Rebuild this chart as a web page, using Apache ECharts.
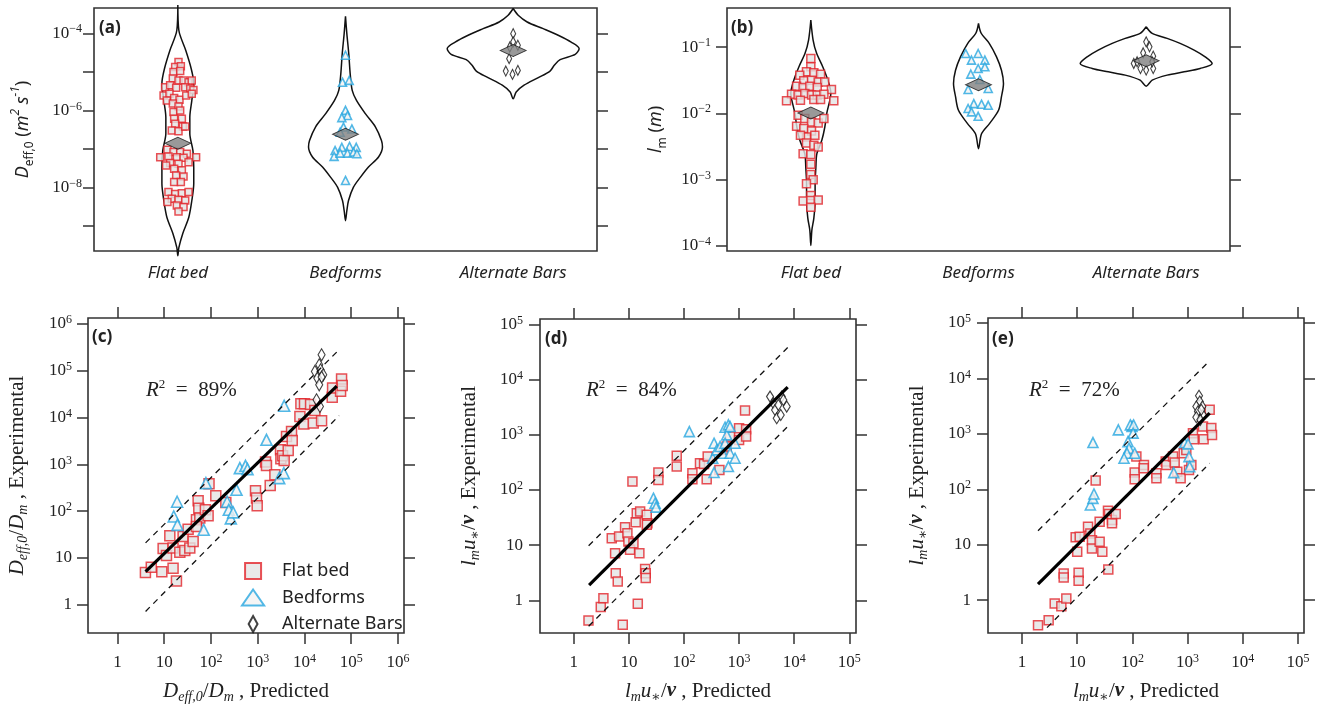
<!DOCTYPE html>
<html>
<head>
<meta charset="utf-8">
<script src="https://cdn.jsdelivr.net/npm/echarts@6/dist/echarts.min.js"></script>
<style>
  html, body { margin: 0; padding: 0; background: #fff; }
  #chart { width: 1324px; height: 707px; }
</style>
</head>
<body>
<div id="chart"></div>
<script>
// ---- categories ----
const regimes = ['Flat bed', 'Bedforms', 'Alternate Bars'];
const r2Labels = ['89%', '84%', '72%'];

// ---- (a) D_eff,0 strip points: [jitter within band, value] ----
const flatA = [[0.004,1.8e-5],[-0.016,1.34e-5],[0.018,1.39e-5],[-0.026,9.9e-6],[0.014,1.05e-5],[-0.03,6.7e-6],[0.004,6.0e-6],[0.034,6.0e-6],[0.064,5.4e-6],[0.083,6.0e-6],
  [-0.076,4.0e-6],[-0.046,4.5e-6],[-0.01,3.9e-6],[0.044,4.0e-6],[0.074,3.7e-6],[0.093,3.4e-6],[-0.085,2.45e-6],[-0.05,2.7e-6],[-0.022,2.1e-6],[0.01,1.9e-6],
  [0.05,2.45e-6],[0.083,2.7e-6],[-0.066,1.8e-6],[-0.03,1.5e-6],[0.004,1.27e-6],[-0.026,9.1e-7],[0.014,1.0e-6],[-0.022,6.1e-7],[0.024,6.1e-7],[-0.016,4.5e-7],
  [0.03,3.8e-7],[-0.036,3.0e-7],[0.004,2.9e-7],[0.044,3.8e-7],
  [-0.062,9.5e-8],[-0.026,8.3e-8],[0.014,8.3e-8],[0.054,7.5e-8],[-0.105,6.1e-8],[-0.056,6.4e-8],[-0.006,6.1e-8],[0.034,5.9e-8],[0.109,6.1e-8],[-0.046,4.3e-8],
  [0.004,4.1e-8],[0.064,4.5e-8],[-0.07,3.7e-8],[-0.022,3.05e-8],[0.024,2.8e-8],[-0.01,2.05e-8],[0.034,1.93e-8],[-0.022,1.38e-8],[0.018,1.38e-8],
  [-0.056,7.6e-9],[-0.016,6.8e-9],[0.024,7.1e-9],[0.064,7.6e-9],[-0.036,5.1e-9],[0.004,4.8e-9],[0.044,4.6e-9],[-0.062,4.2e-9],[-0.006,3.4e-9],[0.034,3.1e-9],[0.004,2.4e-9]];
const bedA = [[0,2.7e-5],[-0.018,5.4e-6],[0.022,6.0e-6],[0,1.0e-6],[0.012,7.4e-7],[-0.022,6.5e-7],[0.038,3.3e-7],[-0.012,3.7e-7],[-0.032,2.7e-7],[-0.062,9.1e-8],
  [-0.022,1.1e-7],[0.024,1.16e-7],[0.064,1.1e-7],[-0.068,6.4e-8],[-0.032,7.8e-8],[0.012,7.8e-8],[0.048,8.3e-8],[0.068,7.5e-8],[0,1.52e-8]];
const altA = [[0,9.8e-5],[0,6.0e-5],[-0.02,4.4e-5],[0.028,4.9e-5],[-0.024,2.2e-5],[-0.044,1.05e-5],[-0.004,8.6e-6],[0.028,1.09e-5]];
const medianA = [1.4e-7, 2.4e-7, 3.6e-5];

// violin outlines (a): [value, relative width]
const violinFlatA = [[5.4e-4,0],[1.2e-4,0.012],[3.6e-5,0.095],[1.32e-5,0.155],[5.0e-6,0.19],[1.82e-6,0.167],[6.6e-7,0.143],[2.5e-7,0.143],[9.1e-8,0.18],
  [3.3e-8,0.19],[1.26e-8,0.19],[4.6e-9,0.167],[1.66e-9,0.13],[6.5e-10,0.06],[2.75e-10,0.012],[1.7e-10,0]];
const violinBedA = [[2.75e-4,0],[9.8e-5,0.016],[2.95e-5,0.039],[8.9e-6,0.056],[3.3e-6,0.08],[1.82e-6,0.131],[8.1e-7,0.239],[3.7e-7,0.358],[1.66e-7,0.429],
  [1.12e-7,0.441],[6.2e-8,0.394],[3.4e-8,0.274],[1.86e-8,0.179],[1.02e-8,0.095],[4.6e-9,0.036],[2.5e-9,0.016],[1.38e-9,0]];
const violinAltA = [[4.4e-4,0],[2.94e-4,0.06],[1.97e-4,0.167],[1.32e-4,0.358],[8.9e-5,0.537],[5.9e-5,0.692],[4.0e-5,0.787],[2.85e-5,0.74],[2.07e-5,0.56],
  [1.48e-5,0.49],[1.05e-5,0.44],[7.1e-6,0.3],[4.5e-6,0.13],[3.0e-6,0.036],[2.0e-6,0]];

// ---- (b) l_m strip points ----
const flatB = [[0,0.0673],[0,0.0504],[-0.026,0.0423],[0.018,0.0408],[0.058,0.039],[-0.066,0.0377],[-0.042,0.0309],[0.004,0.0316],[0.044,0.0298],[0.083,0.0298],
  [-0.085,0.0256],[-0.046,0.0245],[-0.006,0.0256],[0.038,0.0245],[0.123,0.0229],[-0.115,0.0194],[-0.076,0.0188],[-0.036,0.0199],[0.004,0.0188],[0.038,0.0188],
  [0.078,0.0194],[-0.145,0.0154],[-0.062,0.0157],[0.018,0.0161],[0.058,0.0161],[0.137,0.0154],
  [-0.076,0.0093],[-0.036,0.0083],[0.004,0.0074],[0.044,0.0071],[0.078,0.0083],[-0.085,0.00636],[-0.042,0.00586],[0.004,0.0054],[-0.026,0.00438],[0.024,0.00464],
  [-0.062,0.00464],[-0.026,0.00356],[0.018,0.00328],[0.044,0.0031],[-0.046,0.00245],[0,0.00239],[0,0.00169],[0,0.00119],[0.014,0.00099],[-0.026,0.00086],
  [0,5.7e-4],[-0.046,4.7e-4],[0,4.8e-4],[0.044,4.9e-4],[0,3.8e-4]];
const bedB = [[-0.076,0.08],[-0.002,0.08],[-0.042,0.0635],[0.038,0.0635],[-0.002,0.0475],[0.038,0.0504],[-0.046,0.039],[0.008,0.0324],[-0.062,0.0229],[0.058,0.0237],
  [-0.028,0.014],[0.018,0.0137],[0.058,0.0132],[-0.062,0.0118],[-0.042,0.0105],[-0.002,0.009]];
const altB = [[0,0.12],[0.02,0.101],[-0.018,0.082],[0.042,0.073],[-0.074,0.0566],[-0.034,0.0475],[0,0.0449],[0.042,0.0475],[-0.054,0.06],[0.036,0.06]];
const medianB = [0.0101, 0.027, 0.062];

const violinFlatB = [[0.257,0],[0.128,0.027],[0.0813,0.068],[0.0501,0.143],[0.0316,0.203],[0.02,0.239],[0.0158,0.227],[0.01,0.19],[0.0062,0.167],[0.0039,0.131],
  [0.00245,0.072],[0.0015,0.06],[8.7e-4,0.051],[4.8e-4,0.051],[2.6e-4,0.036],[1.7e-4,0.012],[1.0e-4,0]];
const violinBedB = [[0.229,0],[0.162,0.032],[0.114,0.128],[0.0713,0.215],[0.0447,0.274],[0.0282,0.298],[0.0178,0.274],[0.0111,0.239],[0.00698,0.131],[0.0049,0.036],[0.00292,0]];
const violinAltB = [[0.203,0],[0.161,0.072],[0.1355,0.25],[0.1138,0.405],[0.0902,0.572],[0.0713,0.704],[0.0566,0.787],[0.0475,0.644],[0.0423,0.453],[0.0377,0.25],[0.0316,0.072],[0.0257,0]];

// ---- (c) D_eff,0/D_m: [predicted, experimental] ----
const flatC = [[3.97,4.9],[5.3,6.3],[8.9,5.1],[9.5,16],[11.2,11.3],[13.2,30],[15.5,16.3],[15.5,6.0],[18.3,3.2],[21.6,13.3],[25.4,28.8],[27.6,14.5],[32.5,41],
  [35.3,16.3],[41.6,22.5],[49,65.5],[53.2,167],[55,116],[57.8,71],[49,47],[76,107],[87,80],[91,385],[127,213],[208,154],[897,273],[942,190],[975,130],
  [1470,1117],[1540,948],[1850,355],[2330,600],[3075,2050],[3125,1320],[3400,1530],[3680,1210],[4130,3950],[4490,1990],[5290,5060],[5470,3250],
  [7980,10570],[8380,19700],[9700,7250],[10000,19650],[13490,19100],[15380,7620],[16700,14200],[23200,8550],[39200,27350],[39900,42650],[59150,36750],
  [62100,66400],[64100,48600]];
const bedC = [[18.9,159],[16,77],[19.2,51],[70,40],[78,398],[222,159],[241,107],[266,70],[299,94],[352,286],[415,832],[548,933],[605,792],[1540,3355],
  [2880,508],[3620,650],[3680,17870]];
const altC = [[23200,219800],[20650,134300],[16700,96800],[22100,105000],[25200,82200],[18750,69700],[23200,73300],[20650,50200],[18100,24000],[21400,17300]];
const fitC = [[4,5.1],[49000,46800]];
const upperC = [[4,21],[55000,282000]];
const lowerC = [[4,0.72],[55000,11000]];

// ---- (d) l_m u*/v (model 1) ----
const flatD = [[1.85,0.435],[3.09,0.757],[3.45,1.1],[7.74,0.363],[14.5,0.87],[4.89,13.4],[6.64,14.4],[5.62,7.18],[5.78,3.12],[6.28,2.21],[8.53,21.2],[9.4,16.5],
  [9.8,11.7],[10.5,8.26],[12.1,10.9],[11.6,142],[13.3,26.1],[13.9,38],[16,40.7],[15.5,7.18],[21.1,35.5],[21.7,25.1],[21.1,23.4],[19.7,3.69],[20.2,3.12],
  [20.2,2.54],[34.3,207],[34.3,152],[73.8,415],[73.8,266],[142,201],[142,157],[195,305],[231,297],[258,157],[269,403],[439,231],[504,532],[596,612],
  [685,928],[998,1310],[998,807],[1340,1260],[1340,928],[1280,2740]];
const bedD = [[125,1140],[27.9,71],[29.9,57.7],[31.1,48.9],[351,703],[332,376],[351,207],[393,532],[451,612],[504,463],[556,1370],[639,1510],[596,995],
  [556,703],[685,463],[844,703],[844,376],[639,266],[685,1410]];
const altD = [[3640,4910],[4190,3720],[4490,2820],[4810,1990],[5690,2290],[5930,4910],[7300,3240],[6350,4280],[5150,3470]];
const fitD = [[1.9,1.9],[7600,7300]];
const upperD = [[1.86,9.8],[7600,38000]];
const lowerD = [[1.86,0.34],[7600,1410]];

// ---- (e) l_m u*/v (model 2) ----
const flatE = [[1.95,0.353],[3.04,0.435],[3.91,0.87],[5.16,0.78],[6.35,1.07],[5.69,3.03],[5.69,2.57],[10.6,3.12],[10.6,2.24],[9.38,13.6],[11.1,14],[10,7.47],
  [15.7,21.1],[17.3,16],[18.5,12.1],[18.5,8.59],[25.5,11.3],[28.5,7.47],[25.5,26],[36.6,3.58],[36.1,41.1],[37.7,35.8],[42.7,27.9],[42.7,24.3],[49.8,35.8],
  [21.6,144],[118,389],[110,200],[110,152],[162,275],[160,240],[272,195],[272,158],[401,316],[412,275],[544,389],[583,303],[651,208],[748,158],[849,448],
  [948,514],[1060,223],[1170,275],[1250,1030],[1290,801],[1900,1360],[1950,801],[2690,1270],[2770,959],[2510,2720]];
const bedE = [[19.3,697],[55.6,1180],[98.4,1360],[91.8,1450],[105,1450],[103,1030],[83.2,726],[86.7,551],[79.8,448],[70.5,363],[110,448],[17.3,52.1],
  [19.3,68.7],[20.1,82.4],[560,200],[885,697],[1020,659],[1060,389],[1090,257]];
const altE = [[1610,4860],[1660,3840],[1440,3120],[1850,3120],[1540,2540],[1900,2200],[1440,2000],[1700,1790],[1770,2720]];
const fitE = [[1.95,1.95],[2510,2360]];
const upperE = [[1.95,17.9],[2510,20840]];
const lowerE = [[2.84,0.32],[2510,295]];

// ---- axis ticks ----
const ticksA = [1e-9, 1e-8, 1e-7, 1e-6, 1e-5, 1e-4];
const labelsA = [1e-8, 1e-6, 1e-4];
const ticksB = [1e-4, 1e-3, 1e-2, 1e-1];
const ticksC = [1, 10, 100, 1e3, 1e4, 1e5, 1e6];
const ticksDE = [1, 10, 100, 1e3, 1e4, 1e5];

// ---------------------------------------------------------------
const serif = "'Liberation Serif','DejaVu Serif',serif";
const sans = "'Noto Sans','Open Sans',sans-serif";
const ink = '#222';
const frame = '#333';

const powRich = {
  b: { fontFamily: serif, fontSize: 17, color: ink, lineHeight: 20 },
  e: { fontFamily: serif, fontSize: 12, color: ink, lineHeight: 10, verticalAlign: 'top' }
};
function powLabel(v) {
  const e = Math.round(Math.log10(v));
  if (e === 0) return '{b|1}';
  if (e === 1) return '{b|10}';
  return '{b|10}{e|' + (e < 0 ? '\u2212' + (-e) : e) + '}';
}

function serifRich(size) {
  return {
    i: { fontFamily: serif, fontStyle: 'italic', fontSize: size, color: ink, lineHeight: 26 },
    n: { fontFamily: serif, fontSize: size, color: ink, lineHeight: 26 },
    b: { fontFamily: serif, fontStyle: 'italic', fontWeight: 'bold', fontSize: size, color: ink, lineHeight: 26 },
    s: { fontFamily: serif, fontStyle: 'italic', fontSize: Math.round(size * 0.68), color: ink, lineHeight: 12, verticalAlign: 'bottom' }
  };
}
const sansRich = {
  i: { fontFamily: sans, fontStyle: 'italic', fontSize: 18, color: ink, lineHeight: 26 },
  n: { fontFamily: sans, fontSize: 18, color: ink, lineHeight: 26 },
  s: { fontFamily: sans, fontSize: 12, color: ink, lineHeight: 12, verticalAlign: 'bottom' },
  p: { fontFamily: sans, fontStyle: 'italic', fontSize: 12, color: ink, lineHeight: 12, verticalAlign: 'top' }
};

function logAxis(gi, pos, min, max, ticks, labels, margin, extra) {
  return Object.assign({
    type: 'log', logBase: 10, gridIndex: gi, position: pos, min: min, max: max,
    axisLine: { show: false },
    axisTick: { show: true, inside: false, length: 11, customValues: ticks, lineStyle: { color: frame, width: 1.5 } },
    axisLabel: labels ? { show: true, customValues: labels, formatter: powLabel, rich: powRich, margin: margin } : { show: false },
    splitLine: { show: false }
  }, extra || {});
}
function bandAxis(gi) {
  return {
    type: 'value', gridIndex: gi, min: 0, max: 3,
    axisLine: { show: false }, axisTick: { show: false }, splitLine: { show: false },
    axisLabel: {
      customValues: [0.5, 1.5, 2.5], formatter: v => regimes[Math.floor(v)],
      fontFamily: sans, fontStyle: 'italic', fontSize: 17, color: ink, margin: 14
    }
  };
}

const gridBox = { show: true, borderColor: frame, borderWidth: 1.6, containLabel: false };
const grid = [
  Object.assign({ left: 94, top: 8, width: 503, height: 243 }, gridBox),
  Object.assign({ left: 727, top: 8, width: 503, height: 243 }, gridBox),
  Object.assign({ left: 88, top: 318, width: 316, height: 315 }, gridBox),
  Object.assign({ left: 540, top: 319, width: 316, height: 314 }, gridBox),
  Object.assign({ left: 988, top: 318, width: 316, height: 315 }, gridBox)
];

const nameC = '{i|D}{s|eff,0}{n|/}{i|D}{s|m}{n| , ';
const nameL = '{i|l}{s|m}{i|u}{s|\u2217}{n|/}{b|v}{n| , ';

const xAxis = [
  bandAxis(0),
  bandAxis(1),
  logAxis(2, 'bottom', 0.235, 1.343e6, ticksC, ticksC, 20,
    { name: nameC + 'Predicted}', nameLocation: 'middle', nameGap: 45, nameTextStyle: { rich: serifRich(21) } }),
  logAxis(2, 'top', 0.235, 1.343e6, ticksC, null),
  logAxis(3, 'bottom', 0.244, 1.32e5, ticksDE, ticksDE, 20,
    { name: nameL + 'Predicted}', nameLocation: 'middle', nameGap: 45, nameTextStyle: { rich: serifRich(21) } }),
  logAxis(3, 'top', 0.244, 1.32e5, ticksDE, null),
  logAxis(4, 'bottom', 0.242, 1.285e5, ticksDE, ticksDE, 20,
    { name: nameL + 'Predicted}', nameLocation: 'middle', nameGap: 45, nameTextStyle: { rich: serifRich(21) } }),
  logAxis(4, 'top', 0.242, 1.285e5, ticksDE, null)
];

const yAxis = [
  logAxis(0, 'left', 2.25e-10, 4.54e-4, ticksA, labelsA, 12,
    { name: '{i|D}{s|eff,0}{n| (}{i|m}{p|2}{i| s}{p|\u22121}{n|)}', nameLocation: 'middle', nameGap: 58, nameTextStyle: { rich: sansRich } }),
  logAxis(0, 'right', 2.25e-10, 4.54e-4, ticksA, null),
  logAxis(1, 'left', 8.28e-5, 0.39, ticksB, ticksB, 16,
    { name: '{i|l}{s|m}{n| (}{i|m}{n|)}', nameLocation: 'middle', nameGap: 58, nameTextStyle: { rich: sansRich } }),
  logAxis(1, 'right', 8.28e-5, 0.39, ticksB, null),
  logAxis(2, 'left', 0.249, 1.343e6, ticksC, ticksC, 16,
    { name: nameC + 'Experimental}', nameLocation: 'middle', nameGap: 58, nameTextStyle: { rich: serifRich(21) } }),
  logAxis(2, 'right', 0.249, 1.343e6, ticksC, null),
  logAxis(3, 'left', 0.257, 1.25e5, ticksDE, ticksDE, 17,
    { name: nameL + 'Experimental}', nameLocation: 'middle', nameGap: 58, nameTextStyle: { rich: serifRich(21) } }),
  logAxis(3, 'right', 0.257, 1.25e5, ticksDE, null),
  logAxis(4, 'left', 0.256, 1.23e5, ticksDE, ticksDE, 17,
    { name: nameL + 'Experimental}', nameLocation: 'middle', nameGap: 58, nameTextStyle: { rich: serifRich(21) } }),
  logAxis(4, 'right', 0.256, 1.23e5, ticksDE, null)
];

const styles = {
  flat: { name: 'Flat bed', symbol: 'rect', itemStyle: { color: '#e3e3e3', borderColor: '#e2242b', borderWidth: 1.5 } },
  bed: { name: 'Bedforms', symbol: 'triangle', itemStyle: { color: '#f3f3f3', borderColor: '#27a6e0', borderWidth: 1.6 } },
  alt: { name: 'Alternate Bars', symbol: 'diamond', itemStyle: { color: '#ffffff', borderColor: '#111', borderWidth: 1.2 } }
};

function points(kind, data, size, xi, yi) {
  const s = styles[kind];
  return {
    type: 'scatter', name: s.name, xAxisIndex: xi, yAxisIndex: yi, data: data,
    symbol: s.symbol, symbolSize: size, itemStyle: s.itemStyle, z: 3, silent: true, animation: false
  };
}
function strip(kind, data, idx, size, xi, yi) {
  return points(kind, data.map(p => [idx + 0.5 + p[0], p[1]]), size, xi, yi);
}
function violin(profile, idx, xi, yi) {
  const c = idx + 0.5;
  const right = profile.map(p => [c + p[1] / 2, p[0]]);
  const left = profile.slice().reverse().map(p => [c - p[1] / 2, p[0]]);
  return {
    type: 'line', xAxisIndex: xi, yAxisIndex: yi, data: right.concat(left), smooth: 0.3,
    showSymbol: false, symbol: 'none', clip: false, silent: true, animation: false, z: 2,
    lineStyle: { color: '#111', width: 1.5 }
  };
}
function medians(vals, xi, yi) {
  return {
    type: 'scatter', xAxisIndex: xi, yAxisIndex: yi, data: vals.map((v, i) => [i + 0.5, v]),
    symbol: 'diamond', symbolSize: [26, 12], silent: true, animation: false, z: 5,
    itemStyle: { color: '#808080', borderColor: '#111', borderWidth: 1 }
  };
}
function guide(data, xi, yi, dashed) {
  return {
    type: 'line', xAxisIndex: xi, yAxisIndex: yi, data: data, showSymbol: false, symbol: 'none',
    silent: true, animation: false, z: 4, clip: false,
    lineStyle: dashed ? { color: '#111', width: 1.3, type: [6, 5] } : { color: '#000', width: 3.2 }
  };
}

const series = [
  // (a)
  violin(violinFlatA, 0, 0, 0), violin(violinBedA, 1, 0, 0), violin(violinAltA, 2, 0, 0),
  strip('flat', flatA, 0, 7, 0, 0), strip('bed', bedA, 1, 8, 0, 0), strip('alt', altA, 2, [5, 10], 0, 0),
  medians(medianA, 0, 0),
  // (b)
  violin(violinFlatB, 0, 1, 2), violin(violinBedB, 1, 1, 2), violin(violinAltB, 2, 1, 2),
  strip('flat', flatB, 0, 8, 1, 2), strip('bed', bedB, 1, 8, 1, 2), strip('alt', altB, 2, [5, 10], 1, 2),
  medians(medianB, 1, 2),
  // (c)
  points('flat', flatC, 10, 2, 4), points('bed', bedC, 11, 2, 4), points('alt', altC, [7, 12], 2, 4),
  guide(fitC, 2, 4, false), guide(upperC, 2, 4, true), guide(lowerC, 2, 4, true),
  // (d)
  points('flat', flatD, 9, 4, 6), points('bed', bedD, 10, 4, 6), points('alt', altD, [7, 11], 4, 6),
  guide(fitD, 4, 6, false), guide(upperD, 4, 6, true), guide(lowerD, 4, 6, true),
  // (e)
  points('flat', flatE, 9, 6, 8), points('bed', bedE, 10, 6, 8), points('alt', altE, [7, 11], 6, 8),
  guide(fitE, 6, 8, false), guide(upperE, 6, 8, true), guide(lowerE, 6, 8, true)
];

function panelTag(text, left, top) {
  return { type: 'text', left: left, top: top, z: 10, style: { text: text, font: 'bold 17px ' + sans, fill: ink } };
}
function r2Tag(pct, left, top) {
  return {
    type: 'text', left: left, top: top, z: 10,
    style: {
      text: '{i|R}{p|2}{n|  =  ' + pct + '}',
      rich: {
        i: { fontFamily: serif, fontStyle: 'italic', fontSize: 21, fill: ink, lineHeight: 24 },
        p: { fontFamily: serif, fontSize: 13, fill: ink, lineHeight: 12, verticalAlign: 'top' },
        n: { fontFamily: serif, fontSize: 21, fill: ink, lineHeight: 24 }
      }
    }
  };
}

const option = {
  backgroundColor: '#fff',
  animation: false,
  grid: grid,
  xAxis: xAxis,
  yAxis: yAxis,
  legend: {
    orient: 'vertical', left: 236, top: 557, itemWidth: 28, itemHeight: 16, itemGap: 8.5,
    selectedMode: false,
    data: [
      { name: 'Flat bed', icon: 'path://M0,0H10V10H0Z' },
      { name: 'Bedforms', icon: 'path://M9,0L18,13H0Z' },
      { name: 'Alternate Bars', icon: 'path://M5,0L10,9L5,18L0,9Z' }
    ],
    textStyle: { fontFamily: sans, fontSize: 18, color: ink, padding: [0, 0, 0, 10] }
  },
  graphic: [
    panelTag('(a)', 99, 20), panelTag('(b)', 731, 20),
    panelTag('(c)', 92, 329), panelTag('(d)', 545, 331), panelTag('(e)', 992, 331),
    r2Tag(r2Labels[0], 146, 378), r2Tag(r2Labels[1], 586, 378), r2Tag(r2Labels[2], 1029, 378)
  ],
  series: series
};

const chart = echarts.init(document.getElementById('chart'), null, { renderer: 'canvas' });
chart.setOption(option);
</script>
</body>
</html>
